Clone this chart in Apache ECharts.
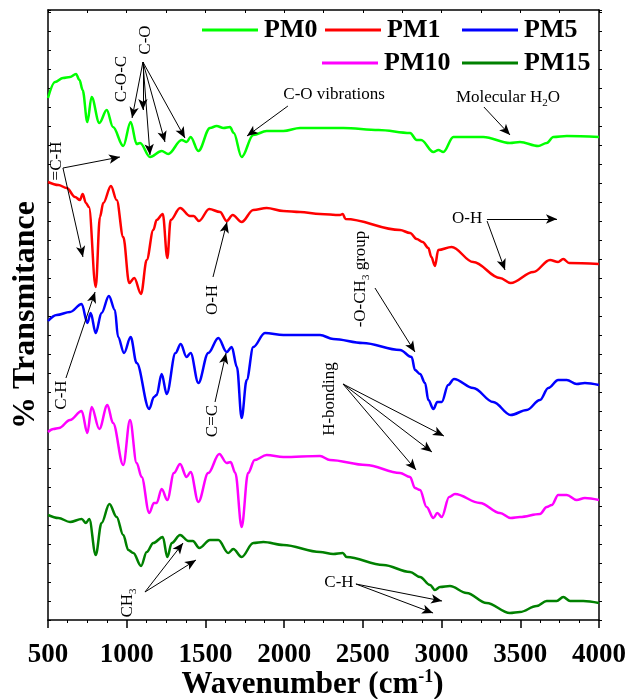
<!DOCTYPE html>
<html>
<head>
<meta charset="utf-8">
<script src="https://cdn.jsdelivr.net/npm/echarts@6/dist/echarts.min.js"></script>
<style>
  html, body { margin: 0; padding: 0; background: #fff; }
  #chart { width: 630px; height: 699px; }
</style>
</head>
<body>
<div id="chart"></div>
<script>
// FTIR spectra, curves offset vertically (arbitrary transmittance units)
const seriesNames = ["PM0", "PM1", "PM5", "PM10", "PM15"];
const seriesColors = ["#00ff00", "#ff0000", "#0000ff", "#ff00ff", "#008000"];
const xTicks = [500, 1000, 1500, 2000, 2500, 3000, 3500, 4000];

const wnPM0 = [500, 545, 595, 640, 678, 700, 720, 750, 777, 826, 873, 913, 978, 1025, 1063, 1085, 1148, 1222, 1264, 1349, 1381, 1406, 1455, 1529, 1571, 1615, 1656, 1680, 1730, 1804, 1889, 1995, 2101, 2228, 2376, 2600, 2800, 2842, 2870, 2948, 2980, 3011, 3075, 3265, 3434, 3498, 3614, 3668, 3710, 3795, 4000];
const valPM0 = [522, 538, 542, 543, 546, 540, 530, 498, 523, 497, 510, 493, 474, 498, 476, 477, 463, 469, 466, 480, 478, 483, 469, 492, 494, 492, 493, 487, 463, 485, 489, 489, 492, 492, 492, 490, 487, 480, 480, 468, 470, 468, 483, 483, 477, 478, 474, 477, 483, 484, 483];

const wnPM1 = [500, 566, 619, 672, 703, 720, 741, 760, 803, 830, 851, 900, 936, 978, 1016, 1048, 1091, 1127, 1169, 1190, 1229, 1258, 1279, 1339, 1402, 1425, 1459, 1524, 1593, 1635, 1673, 1730, 1804, 1889, 1995, 2101, 2228, 2355, 2372, 2390, 2736, 2800, 2842, 2880, 2916, 2935, 2958, 2979, 3064, 3201, 3371, 3439, 3583, 3689, 3740, 3773, 3810, 4000];
const valPM1 = [438, 435, 432, 423, 420, 426, 417, 413, 333, 403, 417, 434, 420, 383, 337, 342, 326, 360, 390, 400, 406, 362, 400, 412, 404, 404, 399, 411, 408, 399, 405, 398, 410, 412, 409, 408, 406, 405, 406, 401, 390, 387, 381, 378, 372, 363, 354, 370, 373, 358, 342, 337, 348, 360, 358, 361, 357, 356];

const wnPM5 = [500, 555, 640, 714, 750, 771, 803, 840, 887, 925, 945, 983, 1025, 1063, 1143, 1173, 1190, 1222, 1254, 1310, 1343, 1380, 1406, 1455, 1518, 1582, 1635, 1667, 1700, 1730, 1762, 1804, 1878, 1995, 2228, 2312, 2500, 2736, 2810, 2831, 2863, 2895, 2916, 2948, 2973, 3001, 3042, 3079, 3201, 3328, 3439, 3541, 3625, 3678, 3741, 3795, 3858, 3910, 4000];
const valPM5 = [299, 305, 308, 316, 297, 307, 287, 307, 324, 310, 283, 267, 283, 257, 211, 223, 225, 246, 226, 267, 276, 263, 267, 237, 267, 282, 268, 273, 253, 202, 240, 273, 287, 285, 285, 281, 277, 270, 263, 250, 246, 237, 220, 211, 218, 218, 235, 241, 232, 218, 205, 210, 220, 232, 240, 240, 236, 237, 235];

const wnPM10 = [500, 534, 570, 640, 714, 750, 777, 826, 877, 913, 978, 1021, 1063, 1095, 1143, 1173, 1190, 1222, 1258, 1300, 1339, 1380, 1406, 1455, 1518, 1588, 1635, 1660, 1690, 1730, 1771, 1813, 1889, 1995, 2228, 2291, 2520, 2736, 2800, 2831, 2863, 2905, 2948, 2973, 3001, 3048, 3085, 3244, 3371, 3439, 3498, 3625, 3668, 3700, 3741, 3795, 3858, 3910, 4000];
const valPM10 = [188, 191, 192, 200, 209, 187, 213, 191, 215, 197, 155, 200, 157, 143, 107, 117, 117, 131, 120, 147, 156, 143, 148, 118, 147, 166, 157, 158, 147, 93, 147, 160, 165, 163, 164, 160, 155, 147, 143, 132, 130, 113, 102, 107, 103, 123, 126, 117, 107, 102, 103, 106, 113, 115, 125, 125, 120, 122, 120];

const wnPM15 = [500, 566, 640, 714, 741, 762, 803, 840, 890, 936, 978, 1010, 1042, 1091, 1127, 1169, 1229, 1258, 1286, 1339, 1392, 1420, 1461, 1529, 1582, 1645, 1677, 1730, 1804, 1868, 1995, 2228, 2312, 2372, 2397, 2630, 2800, 2863, 2927, 2958, 2990, 3053, 3159, 3286, 3434, 3498, 3604, 3668, 3731, 3773, 3816, 3900, 4000];
const valPM15 = [105, 102, 98, 101, 97, 101, 65, 97, 116, 103, 85, 70, 67, 54, 68, 77, 83, 63, 77, 85, 79, 79, 72, 80, 80, 67, 71, 63, 77, 78, 75, 68, 66, 67, 63, 55, 48, 43, 35, 30, 33, 34, 27, 17, 7, 8, 14, 19, 19, 23, 19, 19, 17];

// arrows: [from, to] in [wavenumber, value]
const arrows = [
  [[1103, 558], [1034, 502]],
  [[1103, 558], [1103, 510]],
  [[1103, 558], [1148, 465]],
  [[1103, 558], [1243, 478]],
  [[1103, 558], [1370, 482]],
  [[595, 452], [957, 463]],
  [[595, 452], [722, 363]],
  [[2024, 514], [1764, 484]],
  [[3269, 513], [3435, 485]],
  [[3289, 401], [3733, 401]],
  [[3289, 399], [3403, 350]],
  [[1548, 343], [1637, 398]],
  [[2577, 332], [2831, 268]],
  [[614, 242], [799, 328]],
  [[1561, 218], [1631, 267]],
  [[2374, 236], [3015, 184]],
  [[2374, 236], [2939, 168]],
  [[2374, 236], [2838, 150]],
  [[1116, 28], [1358, 77]],
  [[1116, 28], [1440, 60]],
  [[2456, 36], [3003, 19]],
  [[2456, 36], [2946, 7]]
];

// labels: text, anchor [wavenumber, value], vertical?
const labelTexts = ["C-O-C", "C-O", "=C-H", "C-O vibrations", "Molecular H{s|2}O", "O-H", "O-H", "-O-CH{s|3} group", "C-H", "C=C", "H-bonding", "CH{s|3}", "C-H"];
const labelAnchors = [[964, 541], [1122, 580], [557, 459], [2317, 525], [3422, 522], [3162, 401], [1548, 320], [2488, 341], [589, 225], [1548, 199], [2291, 221], [1008, 17], [2348, 37]];
const labelVertical = [true, true, true, false, false, false, true, true, true, true, true, true, false];

const serif = "'Liberation Serif', 'Times New Roman', serif";
const wnList = [wnPM0, wnPM1, wnPM5, wnPM10, wnPM15];
const valList = [valPM0, valPM1, valPM5, valPM10, valPM15];

const chart = echarts.init(document.getElementById("chart"));

const legendPos = [[202, 17], [325, 17], [462, 17], [322, 50], [462, 50]];
const legends = seriesNames.map((name, i) => ({
  data: [name],
  left: legendPos[i][0],
  top: legendPos[i][1],
  padding: 0,
  icon: "rect",
  itemWidth: 56,
  itemHeight: 3,
  selectedMode: false,
  textStyle: { fontFamily: serif, fontWeight: "bold", fontSize: 26, color: "#000", padding: [0, 0, 0, 1] }
}));

const series = seriesNames.map((name, i) => ({
  name: name,
  type: "line",
  data: wnList[i].map((w, j) => [w, valList[i][j]]),
  showSymbol: false,
  smooth: 0.35,
  smoothMonotone: "x",
  lineStyle: { color: seriesColors[i], width: 2.5 },
  itemStyle: { color: seriesColors[i] },
  z: 3
}));

series.push({
  type: "line",
  data: [],
  silent: true,
  markLine: {
    silent: true,
    symbol: ["none", "arrow"],
    symbolSize: [7, 11],
    label: { show: false },
    lineStyle: { color: "#000", width: 1, type: "solid" },
    emphasis: { disabled: true },
    data: arrows.map((a) => [{ coord: a[0] }, { coord: a[1] }])
  }
});

chart.setOption({
  animation: false,
  legend: legends,
  grid: { left: 48, right: 31, top: 10, bottom: 79, outerBoundsMode: "none" },
  xAxis: [
    {
      type: "value",
      min: xTicks[0],
      max: xTicks[xTicks.length - 1],
      interval: 500,
      name: "{b|Wavenumber (cm}{sup|-1}{b|)}",
      nameLocation: "middle",
      nameGap: 48,
      nameMoveOverlap: false,
      nameTextStyle: {
        padding: [0, 22, 0, 0],
        rich: {
          b: { fontFamily: serif, fontWeight: "bold", fontSize: 31, color: "#000", lineHeight: 34 },
          sup: { fontFamily: serif, fontWeight: "bold", fontSize: 18, color: "#000", lineHeight: 18, verticalAlign: "top" }
        }
      },
      axisLine: { onZero: false, lineStyle: { color: "#000", width: 1.5 } },
      axisTick: { length: 8, lineStyle: { color: "#000", width: 1.5 } },
      minorTick: { show: true, splitNumber: 4, length: 3, lineStyle: { color: "#000" } },
      axisLabel: {
        fontFamily: serif, fontWeight: "bold", fontSize: 27, color: "#000", margin: 22,
        formatter: (v) => String(v)
      },
      splitLine: { show: false }
    },
    {
      type: "value",
      position: "top",
      min: 500,
      max: 4000,
      interval: 250,
      axisLine: { onZero: false, lineStyle: { color: "#000", width: 1.5 } },
      axisTick: { inside: true, length: 3, lineStyle: { color: "#000" } },
      axisLabel: { show: false },
      splitLine: { show: false }
    }
  ],
  yAxis: [
    {
      type: "value",
      min: 0,
      max: 610,
      interval: 19,
      name: "% Transmitance",
      nameLocation: "middle",
      nameGap: 6,
      nameTextStyle: { fontFamily: serif, fontWeight: "bold", fontSize: 32, color: "#000" },
      axisLine: { onZero: false, lineStyle: { color: "#000", width: 1.5 } },
      axisTick: { inside: true, length: 3, lineStyle: { color: "#000" } },
      axisLabel: { show: false },
      splitLine: { show: false }
    },
    {
      type: "value",
      position: "right",
      min: 0,
      max: 610,
      interval: 19,
      axisLine: { onZero: false, lineStyle: { color: "#000", width: 1.5 } },
      axisTick: { length: 3, lineStyle: { color: "#000" } },
      axisLabel: { show: false },
      splitLine: { show: false }
    }
  ],
  series: series
});

// annotation texts, placed from data coordinates
function labelGraphics() {
  return labelTexts.map((t, i) => {
    const p = chart.convertToPixel({ seriesIndex: 0 }, labelAnchors[i]);
    return {
      type: "text",
      x: p[0],
      y: p[1],
      rotation: labelVertical[i] ? Math.PI / 2 : 0,
      silent: true,
      z: 10,
      style: {
        text: t,
        fontFamily: serif,
        fontSize: 17,
        lineHeight: 22,
        fill: "#000",
        align: "center",
        verticalAlign: "middle",
        rich: { s: { fontFamily: serif, fontSize: 11, lineHeight: 11, verticalAlign: "bottom", fill: "#000" } }
      }
    };
  });
}

chart.setOption({ graphic: labelGraphics() });
</script>
</body>
</html>
